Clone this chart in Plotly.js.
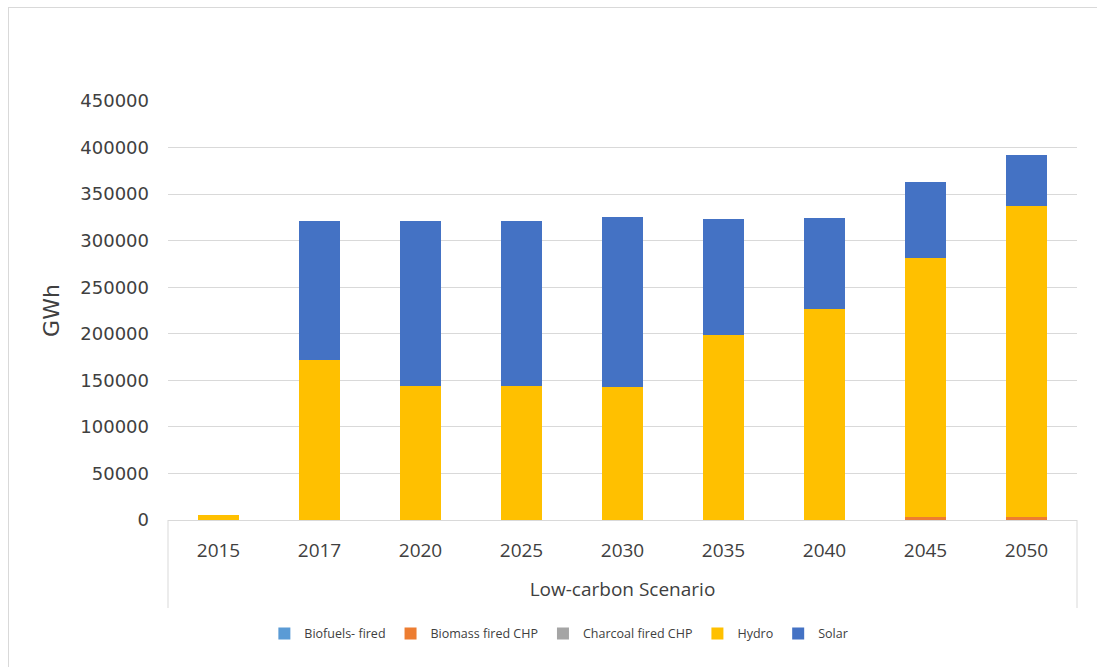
<!DOCTYPE html>
<html>
<head>
<meta charset="utf-8">
<script src="https://cdn.plot.ly/plotly-3.0.1.min.js"></script>
<style>
  html, body { margin: 0; padding: 0; background: #ffffff; overflow: hidden; }
  #wrap { position: relative; width: 1097px; height: 667px; }
  #chart { position: absolute; left: 0; top: 0; width: 1097px; height: 667px; }
  #frame { position: absolute; left: 8px; top: 7px; width: 1100px; height: 680px;
           border: 1px solid #d9d9d9; pointer-events: none; }
</style>
</head>
<body>
<div id="wrap">
  <div id="chart"></div>
  <div id="frame"></div>
</div>
<script>
const years = ["2015", "2017", "2020", "2025", "2030", "2035", "2040", "2045", "2050"];
const biofuels = [0, 0, 0, 0, 0, 0, 0, 300, 300];
const biomassCHP = [0, 300, 300, 300, 300, 300, 500, 2500, 2800];
const charcoalCHP = [0, 0, 0, 0, 0, 0, 0, 200, 200];
const hydro = [5300, 171200, 143600, 143600, 142200, 198400, 226100, 278300, 333600];
const solar = [300, 149900, 177500, 177200, 182600, 124600, 97400, 81300, 55100];

const names = ["Biofuels- fired", "Biomass fired CHP", "Charcoal fired CHP", "Hydro", "Solar"];
const colors = ["#5b9bd5", "#ed7d31", "#a5a5a5", "#ffc000", "#4472c4"];
const series = [biofuels, biomassCHP, charcoalCHP, hydro, solar];

const traces = series.map((vals, i) => ({
  type: "bar",
  name: names[i],
  x: years,
  y: vals,
  marker: { color: colors[i], line: { width: 0 } },
  hoverinfo: "x+y+name"
}));

const layout = {
  width: 1097,
  height: 667,
  barmode: "stack",
  bargap: 0.6,
  paper_bgcolor: "#ffffff",
  plot_bgcolor: "#ffffff",
  margin: { l: 168, r: 20, t: 101, b: 147 },
  font: { family: "DejaVu Sans, sans-serif", color: "#404040" },
  xaxis: {
    type: "category",
    showgrid: false,
    showline: true,
    linecolor: "#d9d9d9",
    linewidth: 1,
    ticks: "",
    tickfont: { family: "Open Sans, sans-serif", size: 19, color: "#404040" },
    ticklabelstandoff: 13,
    title: { text: "Low-carbon Scenario", font: { family: "Open Sans, sans-serif", size: 19, color: "#404040" }, standoff: 20 }
  },
  yaxis: {
    range: [0, 450000],
    dtick: 50000,
    tickformat: "d",
    showgrid: true,
    gridcolor: "#d9d9d9",
    gridwidth: 1,
    zeroline: false,
    showline: false,
    ticks: "",
    ticklabelstandoff: 18,
    tickfont: { family: "DejaVu Sans, sans-serif", size: 18, color: "#404040" },
    title: { text: "GWh", font: { family: "DejaVu Sans, sans-serif", size: 22, color: "#404040" }, standoff: 14 }
  },
  showlegend: true,
  legend: {
    orientation: "h",
    x: 0.43,
    xanchor: "center",
    y: -0.272,
    yanchor: "middle",
    font: { family: "Open Sans, sans-serif", size: 12.5, color: "#404040" },
    traceorder: "normal",
    itemwidth: 30,
    itemclick: false
  },
  shapes: [
    { type: "line", xref: "paper", yref: "paper", x0: 0, x1: 0, y0: 0, y1: -88 / 419,
      line: { color: "#d9d9d9", width: 1 } },
    { type: "line", xref: "paper", yref: "paper", x0: 1, x1: 1, y0: 0, y1: -88 / 419,
      line: { color: "#d9d9d9", width: 1 } }
  ]
};

Plotly.newPlot("chart", traces, layout, { displayModeBar: false, staticPlot: true });
</script>
</body>
</html>
